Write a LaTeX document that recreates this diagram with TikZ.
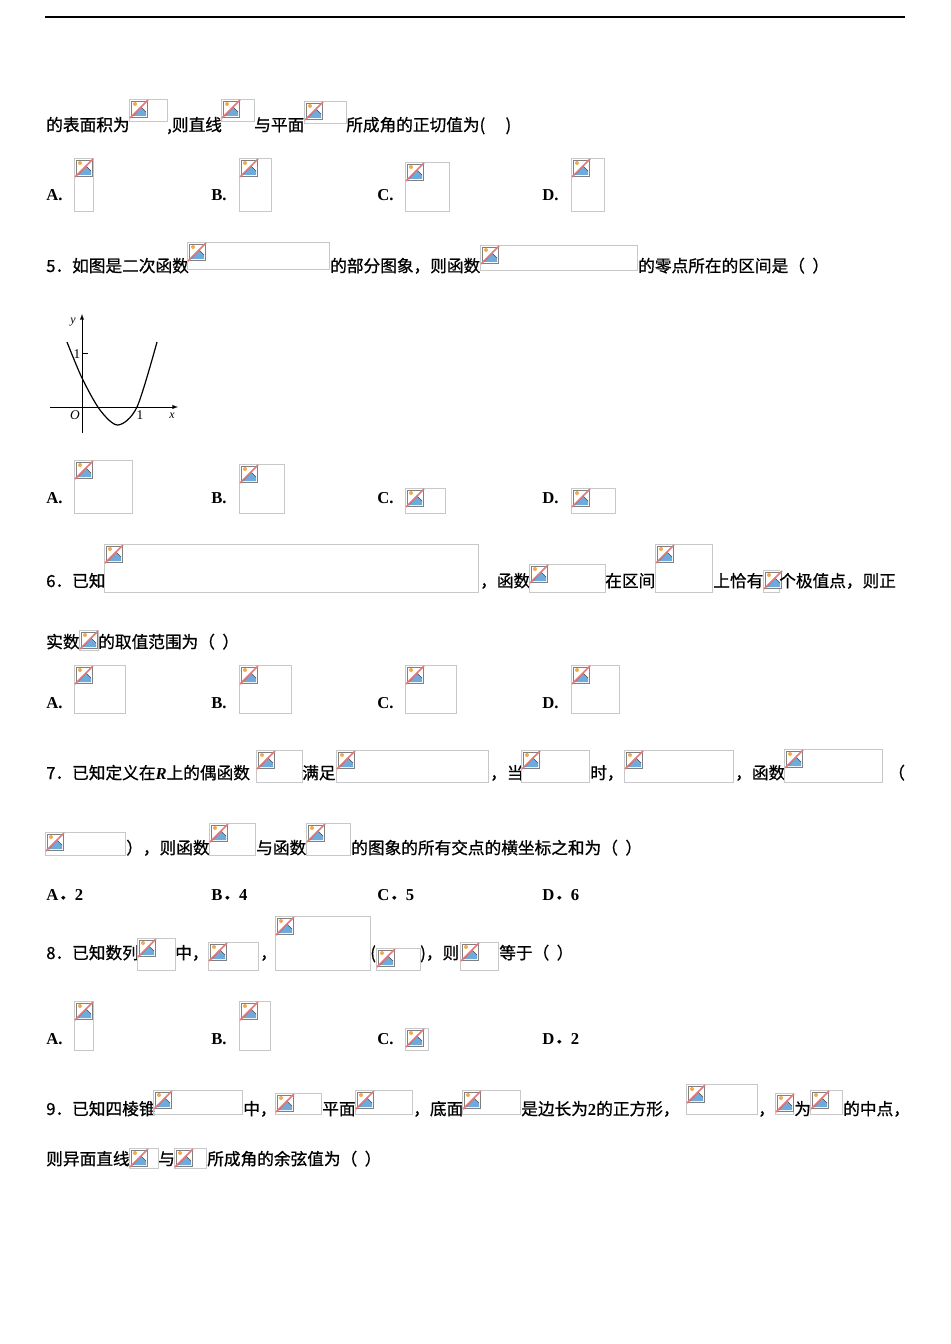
\documentclass[tikz,border=0pt]{standalone}
\usepackage{fontspec}
\setmainfont{Noto Sans CJK SC}[FakeBold=0.8]
\newfontfamily\cjkf{Noto Sans CJK SC}[FakeBold=0.8]
\newfontfamily\latf{Liberation Serif}
\newfontfamily\itf{Liberation Serif}
\definecolor{pbox}{RGB}{200,200,200}
\definecolor{pblue}{RGB}{110,170,220}
\definecolor{pred}{RGB}{230,120,120}
\definecolor{porange}{RGB}{240,170,80}
\newcommand\ph[4]{%
 \draw[pbox,line width=0.6pt] (#1,#2) rectangle ++(#3,#4);
 \begin{scope}[shift={(#1,#2)}]
  \fill[white] (1,1) rectangle (19,19);
  \fill[pblue] (4,17) -- (12,8) -- (17,13) -- (17,17) -- cycle;
  \draw[black!70,line width=0.5pt] (4,17) -- (12,8) -- (17,13);
  \fill[porange] (6,5) circle (2);
  \draw[gray,line width=0.4pt] (2,2) rectangle (18,18);
  \draw[pred,line width=1.2pt] (1,19) -- (19,1);
 \end{scope}}
\newcommand\tx[3]{\node[anchor=base west,inner sep=0pt,font=\fontsize{12.5pt}{14pt}\selectfont] at (#1,#2) {#3};}
\newcommand\opt[3]{\node[anchor=base west,inner sep=0pt,font=\latf\bfseries\fontsize{12.5pt}{14pt}\selectfont] at (#1,#2) {#3};}
\newcommand\optn[4]{\node[anchor=base west,inner sep=0pt,font=\latf\bfseries\fontsize{12.5pt}{14pt}\selectfont] at (#1,#2) {#3{\cjkf ．}#4};}
\begin{document}
\begin{tikzpicture}[x=0.75pt,y=-0.75pt]
\useasboundingbox[fill=white] (0,0) rectangle (950,1344);
\draw[line width=0.8pt] (45,17) -- (905,17);
% line 1
\tx{46}{131}{的表面积为}\ph{129}{99}{38}{22}
\tx{167}{131}{,则直线}\ph{221}{99}{33}{22}
\tx{254}{131}{与平面}\ph{304}{101}{42}{22}
\tx{346}{131}{所成角的正切值为(\quad\ )}
\opt{46}{201}{A.}\ph{74}{158}{19}{53}
\opt{211}{201}{B.}\ph{239}{158}{32}{53}
\opt{377}{201}{C.}\ph{405}{162}{44}{49}
\opt{542}{201}{D.}\ph{571}{158}{33}{53}
% 5
\tx{46}{272}{5．如图是二次函数}\ph{187}{242}{142}{27}
\tx{330}{272}{的部分图象，则函数}\ph{480}{245}{157}{25}
\tx{638}{272}{的零点所在的区间是（\ \ ）}
% graph
\draw[-latex,line width=0.5pt] (50,407) -- (178,407);
\draw[-latex,line width=0.5pt] (82,433) -- (82,314);
\draw[line width=0.5pt] (82,353) -- (88,353);
\draw[line width=0.9pt] plot[smooth] coordinates {(67,342) (82,378) (100,410) (118,425) (137,407) (157,342)};
\node[font=\itf\itshape\fontsize{9pt}{10pt}\selectfont] at (73,322) {y};
\node[font=\latf\fontsize{10pt}{10pt}\selectfont] at (77,354) {1};
\node[font=\itf\itshape\fontsize{10pt}{10pt}\selectfont] at (75,415) {O};
\node[font=\latf\fontsize{10pt}{10pt}\selectfont] at (140,415) {1};
\node[font=\itf\itshape\fontsize{9pt}{10pt}\selectfont] at (172,416) {x};
\opt{46}{503}{A.}\ph{74}{460}{58}{53}
\opt{211}{503}{B.}\ph{239}{464}{45}{49}
\opt{377}{503}{C.}\ph{405}{488}{40}{25}
\opt{542}{503}{D.}\ph{571}{488}{44}{25}
% 6
\tx{46}{587}{6．已知}\ph{104}{544}{374}{48}
\tx{480}{587}{，函数}\ph{529}{564}{76}{28}
\tx{605}{587}{在区间}\ph{655}{544}{57}{48}
\tx{713}{587}{上恰有}\ph{763}{570}{16}{22}
\tx{779}{587}{个极值点，则正}
\tx{46}{648}{实数}\ph{79}{630}{19}{20}
\tx{98}{648}{的取值范围为（\ \ ）}
\opt{46}{708}{A.}\ph{74}{665}{51}{48}
\opt{211}{708}{B.}\ph{239}{665}{52}{48}
\opt{377}{708}{C.}\ph{405}{665}{51}{48}
\opt{542}{708}{D.}\ph{571}{665}{48}{48}
% 7
\tx{46}{779}{7．已知定义在{\latf\bfseries\itshape R}上的偶函数}\ph{256}{750}{46}{32}
\tx{302}{779}{满足}\ph{336}{750}{152}{32}
\tx{490}{779}{，当}\ph{521}{750}{68}{32}
\tx{590}{779}{时，}\ph{624}{750}{109}{32}
\tx{735}{779}{，函数}\ph{784}{749}{98}{33}
\tx{888}{779}{（}
\ph{45}{832}{80}{23}
\tx{126}{854}{），则函数}\ph{209}{823}{46}{32}
\tx{256}{854}{与函数}\ph{306}{823}{44}{32}
\tx{351}{854}{的图象的所有交点的横坐标之和为（\ \ ）}
\optn{46}{900}{A}{2}
\optn{211}{900}{B}{4}
\optn{377}{900}{C}{5}
\optn{542}{900}{D}{6}
% 8
\tx{46}{959}{8．已知数列}\ph{137}{938}{38}{32}
\tx{175}{959}{中，}\ph{208}{942}{50}{28}
\tx{260}{959}{，}\ph{275}{916}{95}{54}
\tx{370}{959}{(}\ph{376}{948}{44}{22}
\tx{420}{959}{)，则}\ph{460}{942}{38}{28}
\tx{499}{959}{等于（\ \ ）}
\opt{46}{1044}{A.}\ph{74}{1001}{19}{49}
\opt{211}{1044}{B.}\ph{239}{1001}{31}{49}
\opt{377}{1044}{C.}\ph{405}{1028}{23}{22}
\optn{542}{1044}{D}{2}
% 9
\tx{46}{1115}{9．已知四棱锥}\ph{153}{1090}{89}{24}
\tx{243}{1115}{中，}\ph{275}{1093}{46}{21}
\tx{322}{1115}{平面}\ph{355}{1090}{57}{24}
\tx{413}{1115}{，底面}\ph{462}{1090}{58}{24}
\tx{521}{1115}{是边长为{\latf\bfseries 2}的正方形，}\ph{686}{1084}{71}{30}
\tx{758}{1115}{，}\ph{775}{1093}{18}{21}
\tx{794}{1115}{为}\ph{810}{1090}{32}{24}
\tx{843}{1115}{的中点，}
\tx{46}{1165}{则异面直线}\ph{129}{1148}{29}{20}
\tx{158}{1165}{与}\ph{174}{1148}{32}{20}
\tx{207}{1165}{所成角的余弦值为（\ \ ）}
\end{tikzpicture}
\end{document}
